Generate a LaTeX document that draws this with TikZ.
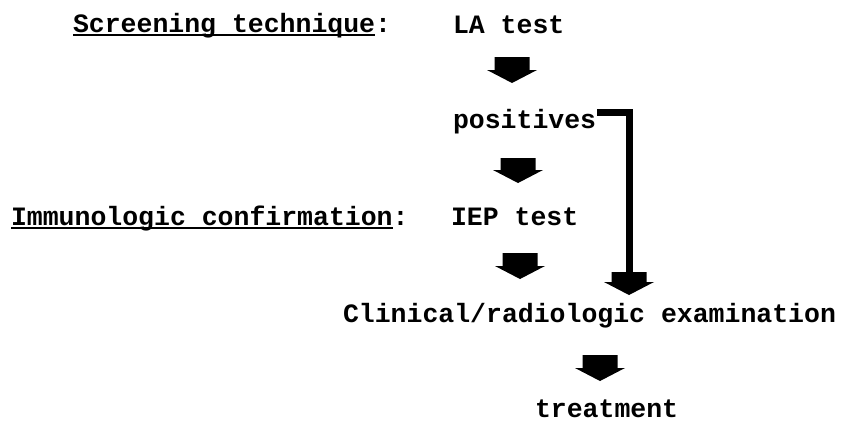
\documentclass[tikz,border=0pt]{standalone}
\usepackage{fontspec}
\newfontfamily\twfont{Liberation Mono}
\usetikzlibrary{calc}
\tikzset{
  txt/.style={inner sep=0pt, outer sep=0pt, anchor=base west, font=\twfont\bfseries\fontsize{26.5}{30}\selectfont},
  uline/.style={line width=2pt},
  link/.style={line width=7pt},
  blk/.style={fill=black, to path={let \p1=(\tikztostart), \p2=(\tikztotarget) in
    (\x1-17.5pt,\y1) -- (\x1+17.5pt,\y1) -- (\x1+17.5pt,\y2+13pt) -- (\x1+25pt,\y2+13pt)
    -- (\x1,\y2) -- (\x1-25pt,\y2+13pt) -- (\x1-17.5pt,\y2+13pt) -- cycle}}
}
\begin{document}
\begin{tikzpicture}[x=1pt,y=1pt]
\fill[white] (0,0) rectangle (842,-421);
\useasboundingbox (0,0) rectangle (842,-421);
% texts
\node[txt] (scr) at (73,-32) {Screening technique};
\node[txt, anchor=base west] (scrc) at (scr.base east) {:};
\node[txt] (la) at (453,-33) {LA test};
\node[txt] (pos) at (453,-128) {positives};
\node[txt] (imm) at (11,-225) {Immunologic confirmation};
\node[txt, anchor=base west] (immc) at (imm.base east) {:};
\node[txt] (iep) at (451,-225) {IEP test};
\node[txt] (clin) at (343,-322) {Clinical/radiologic examination};
\node[txt] (treat) at (535,-417) {treatment};
% underlines
\draw[uline] ([yshift=-2.5pt]scr.base west) -- ([yshift=-2.5pt]scr.base east);
\draw[uline] ([yshift=-2.5pt]imm.base west) -- ([yshift=-2.5pt]imm.base east);
% arrow coordinates
\coordinate (a1s) at (512,-57);  \coordinate (a1e) at (512,-83);
\coordinate (a2s) at (518,-158); \coordinate (a2e) at (518,-183);
\coordinate (a3s) at (520,-253); \coordinate (a3e) at (520,-279);
\coordinate (a5s) at (629,-272); \coordinate (a5e) at (629,-295);
\coordinate (a4s) at (600,-355); \coordinate (a4e) at (600,-381);
% block arrows
\path[blk] (a1s) to (a1e);
\path[blk] (a2s) to (a2e);
\path[blk] (a3s) to (a3e);
\path[blk] (a4s) to (a4e);
\path[blk] (a5s) to (a5e);
% bypass connector
\draw[link] ([xshift=1pt,yshift=16pt]pos.base east) -| (a5s);
\end{tikzpicture}
\end{document}
